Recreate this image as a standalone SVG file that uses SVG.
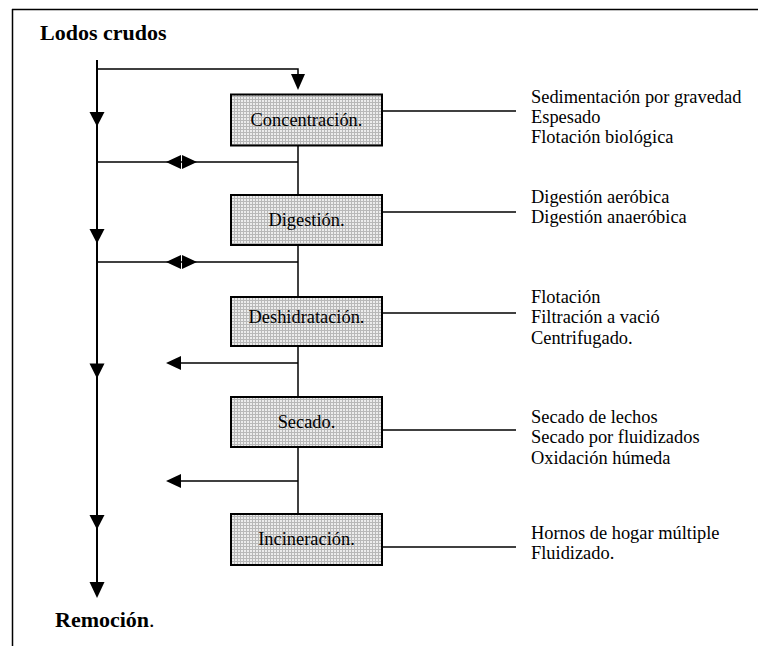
<svg xmlns="http://www.w3.org/2000/svg" width="758" height="646" viewBox="0 0 758 646">
<defs>
<pattern id="hatch" width="3" height="3" patternUnits="userSpaceOnUse">
<rect width="3" height="3" fill="#b8b8b8"/>
<rect x="1" y="1" width="2" height="2" fill="#ececec"/>
</pattern>
<style>
.box{fill:url(#hatch);stroke:#000;stroke-width:2}
.t{font-family:"Liberation Serif","Times New Roman",serif;font-size:18.4px;fill:#000}
.c{text-anchor:middle}
.b{font-family:"Liberation Serif","Times New Roman",serif;font-size:22px;font-weight:bold;fill:#000}
.ln{stroke:#000;stroke-width:1.5;fill:none}
.main{stroke:#000;stroke-width:2;fill:none}
.ah{fill:#000;stroke:none}
</style>
</defs>
<rect width="758" height="646" fill="#fff"/>
<g id="frame">
<line x1="12" y1="9.5" x2="758" y2="9.5" stroke="#000" stroke-width="1.5"/>
<line x1="12.5" y1="9" x2="12.5" y2="646" stroke="#000" stroke-width="1.5"/>
</g>
<g id="connectors">
<line class="main" x1="97" y1="60" x2="97" y2="584"/>
<path class="ah" d="M89.5,112 L104.5,112 L97,126.5 Z"/>
<path class="ah" d="M89.5,229 L104.5,229 L97,243.5 Z"/>
<path class="ah" d="M89.5,363.5 L104.5,363.5 L97,378.5 Z"/>
<path class="ah" d="M89.5,515 L104.5,515 L97,529.5 Z"/>
<path class="ah" d="M89.5,582 L104.5,582 L97,598 Z"/>
<polyline class="ln" points="97,69 298,69 298,75"/>
<path class="ah" d="M291,74 L305,74 L298,90 Z"/>
<line class="ln" x1="97" y1="162" x2="298" y2="162"/>
<path class="ah" d="M166,162 L181,155 L181,169 Z M197,162 L182,155 L182,169 Z"/>
<line class="ln" x1="97" y1="262" x2="298" y2="262"/>
<path class="ah" d="M166,262 L181,255 L181,269 Z M197,262 L182,255 L182,269 Z"/>
<line class="ln" x1="180" y1="363" x2="298" y2="363"/>
<path class="ah" d="M166,363 L181,356 L181,370 Z"/>
<line class="ln" x1="180" y1="481" x2="298" y2="481"/>
<path class="ah" d="M166,481 L181,474 L181,488 Z"/>
<line class="ln" x1="298" y1="145" x2="298" y2="195"/>
<line class="ln" x1="298" y1="245" x2="298" y2="297"/>
<line class="ln" x1="298" y1="346" x2="298" y2="397"/>
<line class="ln" x1="298" y1="447" x2="298" y2="514"/>
<line class="ln" x1="382" y1="111" x2="516" y2="111"/>
<line class="ln" x1="382" y1="212" x2="516" y2="212"/>
<line class="ln" x1="382" y1="313" x2="516" y2="313"/>
<line class="ln" x1="382" y1="430" x2="516" y2="430"/>
<line class="ln" x1="382" y1="547" x2="516" y2="547"/>
</g>
<g id="lodos">
<text class="b" x="40" y="40">Lodos crudos</text>
</g>
<g id="remocion">
<text class="b" x="55" y="627">Remoción<tspan font-weight="normal">.</tspan></text>
</g>
<g id="concentracion">
<rect class="box" x="231" y="94.5" width="151" height="51"/>
<text class="t c" x="306.5" y="126">Concentración.</text>
</g>
<g id="digestion">
<rect class="box" x="231" y="195" width="151" height="50"/>
<text class="t c" x="306.5" y="226">Digestión.</text>
</g>
<g id="deshidratacion">
<rect class="box" x="231" y="297" width="151" height="49"/>
<text class="t c" x="306.5" y="323">Deshidratación.</text>
</g>
<g id="secado">
<rect class="box" x="231" y="397" width="151" height="50"/>
<text class="t c" x="306.5" y="428">Secado.</text>
</g>
<g id="incineracion">
<rect class="box" x="231" y="514" width="151" height="51"/>
<text class="t c" x="306.5" y="545">Incineración.</text>
</g>
<g id="notes-concentracion">
<text class="t" x="531" y="103">Sedimentación por gravedad</text>
<text class="t" x="531" y="123">Espesado</text>
<text class="t" x="531" y="143">Flotación biológica</text>
</g>
<g id="notes-digestion">
<text class="t" x="531" y="203">Digestión aeróbica</text>
<text class="t" x="531" y="223">Digestión anaeróbica</text>
</g>
<g id="notes-deshidratacion">
<text class="t" x="531" y="303">Flotación</text>
<text class="t" x="531" y="323">Filtración a vació</text>
<text class="t" x="531" y="344">Centrifugado.</text>
</g>
<g id="notes-secado">
<text class="t" x="531" y="423">Secado de lechos</text>
<text class="t" x="531" y="443">Secado por fluidizados</text>
<text class="t" x="531" y="464">Oxidación húmeda</text>
</g>
<g id="notes-incineracion">
<text class="t" x="531" y="539">Hornos de hogar múltiple</text>
<text class="t" x="531" y="559">Fluidizado.</text>
</g>
</svg>
